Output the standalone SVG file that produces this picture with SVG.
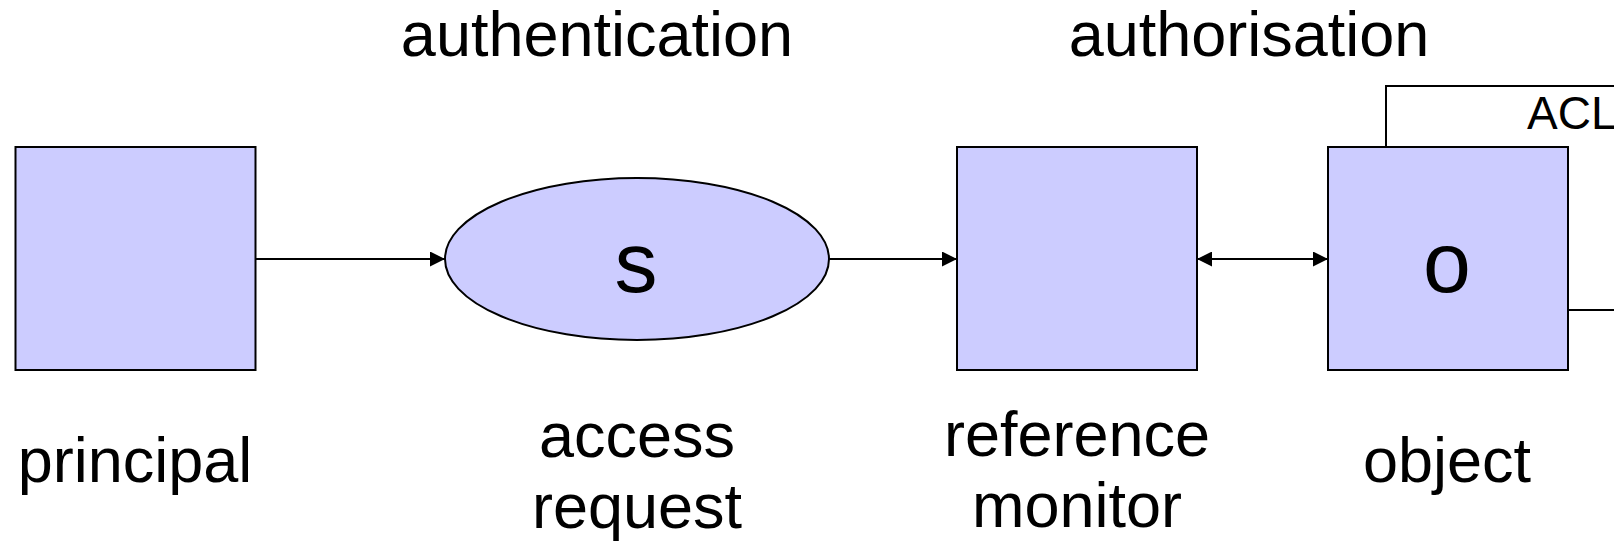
<svg xmlns="http://www.w3.org/2000/svg" width="1614" height="547" viewBox="0 0 1614 547">
  <style>
    .node { fill: #CCCCFF; stroke: #000; stroke-width: 2; }
    .edge { fill: none; stroke: #000; stroke-width: 2; }
    .lbl { font-family: "Liberation Sans", Arial, sans-serif; font-size: 63px; fill: #000; text-anchor: middle; }
    .big { font-family: "Liberation Sans", Arial, sans-serif; font-size: 86px; fill: #000; text-anchor: middle; }
    .small { font-family: "Liberation Sans", Arial, sans-serif; font-size: 46px; fill: #000; }
  </style>
  <defs>
    <marker id="arrow" markerUnits="userSpaceOnUse" markerWidth="15" markerHeight="15" refX="15" refY="7.5" orient="auto-start-reverse">
      <path d="M0,0 L15,7.5 L0,15 Z" fill="#000"/>
    </marker>
  </defs>
  <rect width="1614" height="547" fill="#fff"/>

  <!-- section headings -->
  <text class="lbl" x="597" y="56">authentication</text>
  <text class="lbl" x="1249" y="56">authorisation</text>

  <!-- connectors -->
  <g id="connectors">
    <line class="edge" x1="256" y1="259" x2="445" y2="259" marker-end="url(#arrow)"/>
    <line class="edge" x1="829" y1="259" x2="957" y2="259" marker-end="url(#arrow)"/>
    <line class="edge" x1="1197" y1="259" x2="1328" y2="259" marker-start="url(#arrow)" marker-end="url(#arrow)"/>
    <polyline class="edge" points="1386,147 1386,86 1614,86"/>
    <line class="edge" x1="1568" y1="310" x2="1614" y2="310"/>
  </g>

  <g id="principal">
    <rect class="node" x="15.5" y="147" width="240" height="223"/>
    <text class="lbl" x="135" y="482">principal</text>
  </g>

  <g id="access-request">
    <ellipse class="node" cx="637" cy="259" rx="192" ry="81"/>
    <text class="big" x="636" y="292">s</text>
    <text class="lbl" x="637" y="457">access</text>
    <text class="lbl" x="637" y="528">request</text>
  </g>

  <g id="reference-monitor">
    <rect class="node" x="957" y="147" width="240" height="223"/>
    <text class="lbl" x="1077" y="456">reference</text>
    <text class="lbl" x="1077" y="527">monitor</text>
  </g>

  <g id="object">
    <rect class="node" x="1328" y="147" width="240" height="223"/>
    <text class="big" x="1447" y="292">o</text>
    <text class="lbl" x="1447" y="482">object</text>
  </g>

  <g id="acl">
    <text class="small" x="1527" y="129">ACL</text>
  </g>
</svg>
